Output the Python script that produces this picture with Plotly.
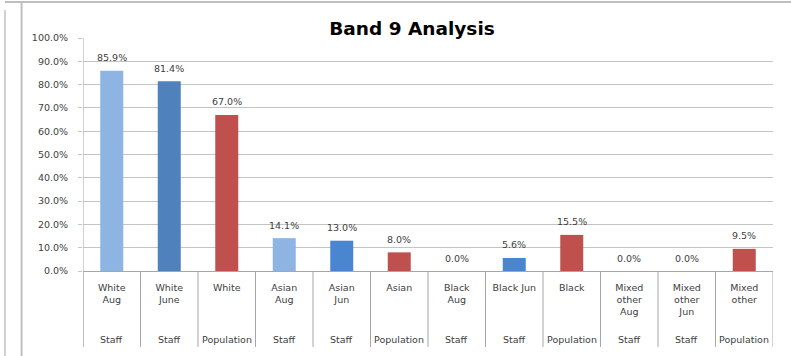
import plotly.graph_objects as go

# Band 9 staff vs population by ethnicity
categories = [
    "White<br>Aug", "White<br>June", "White",
    "Asian<br>Aug", "Asian<br>Jun", "Asian",
    "Black<br>Aug", "Black Jun", "Black",
    "Mixed<br>other<br>Aug", "Mixed<br>other<br>Jun", "Mixed<br>other",
]
groups = ["Staff", "Staff", "Population"] * 4
values = [85.9, 81.4, 67.0, 14.1, 13.0, 8.0, 0.0, 5.6, 15.5, 0.0, 0.0, 9.5]
colors = [
    "#8DB4E2", "#4F81BD", "#C0504D",
    "#8DB4E2", "#4A86D0", "#C0504D",
    "#8DB4E2", "#4A86D0", "#C0504D",
    "#8DB4E2", "#4A86D0", "#C0504D",
]
y_ticks = [i * 10 for i in range(11)]

FONT = "DejaVu Sans"
GRID = "#C4C4C4"
TXT = "#404040"

x = list(range(len(categories)))

fig = go.Figure(
    go.Bar(
        x=x,
        y=values,
        marker=dict(color=colors, line=dict(width=0)),
        width=0.4,
        hoverinfo="skip",
    )
)

annotations = []
# value labels above bars
for xi, v in zip(x, values):
    annotations.append(dict(
        x=xi, y=v, xref="x", yref="y", text=f"{v:.1f}%",
        showarrow=False, yshift=13, font=dict(family=FONT, size=9.5, color=TXT),
    ))
# second-level category labels
for xi, g in zip(x, groups):
    annotations.append(dict(
        x=xi, y=-0.292, xref="x", yref="paper", text=g,
        showarrow=False, yanchor="middle",
        font=dict(family=FONT, size=9.5, color=TXT),
    ))

shapes = []
# category separators below the axis
for i in range(len(categories) + 1):
    shapes.append(dict(
        type="line", xref="x", yref="paper",
        x0=i - 0.5, x1=i - 0.5, y0=-0.326, y1=0,
        line=dict(color="#A6A6A6", width=1),
    ))
# left axis line extending down through the label rows
shapes.append(dict(
    type="line", xref="x", yref="paper",
    x0=-0.5, x1=-0.5, y0=-0.326, y1=1,
    line=dict(color="#A6A6A6", width=1),
))
# chart frame lines
shapes.append(dict(type="line", xref="paper", yref="paper",
                   x0=-0.113, x1=1.03, y0=1.1545, y1=1.1545,
                   line=dict(color="#BFBFBF", width=2)))
shapes.append(dict(type="line", xref="paper", yref="paper",
                   x0=-0.089, x1=-0.089, y0=-0.4, y1=1.1545,
                   line=dict(color="#BFBFBF", width=2)))
shapes.append(dict(type="line", xref="paper", yref="paper",
                   x0=-0.113, x1=-0.113, y0=-0.4, y1=1.12,
                   line=dict(color="#D0D0D0", width=2)))

fig.update_layout(
    width=791, height=356,
    margin=dict(l=83, r=18, t=38, b=85),
    paper_bgcolor="white", plot_bgcolor="white",
    showlegend=False,
    title=dict(
        text="<b>Band 9 Analysis</b>",
        x=412 / 791, xref="container", xanchor="center",
        y=1 - 29 / 356, yref="container", yanchor="middle",
        font=dict(family=FONT, size=18.5, color="#000000"),
    ),
    xaxis=dict(
        tickmode="array", tickvals=x, ticktext=categories,
        range=[-0.5, len(categories) - 0.5],
        showgrid=False, zeroline=False, showline=False,
        ticks="", ticklabelstandoff=9,
        tickfont=dict(family=FONT, size=9.5, color=TXT),
        fixedrange=True,
    ),
    yaxis=dict(
        range=[0, 100], tickmode="array", tickvals=y_ticks,
        ticktext=[f"{t:.1f}%" for t in y_ticks],
        showgrid=True, gridcolor=GRID, gridwidth=1,
        zeroline=True, zerolinecolor="#A6A6A6", zerolinewidth=1,
        showline=False, ticks="outside", ticklen=4, tickcolor=GRID,
        ticklabelstandoff=8,
        tickfont=dict(family=FONT, size=9.5, color=TXT),
        fixedrange=True,
    ),
    annotations=annotations,
    shapes=shapes,
)

fig.write_html("out.html")
